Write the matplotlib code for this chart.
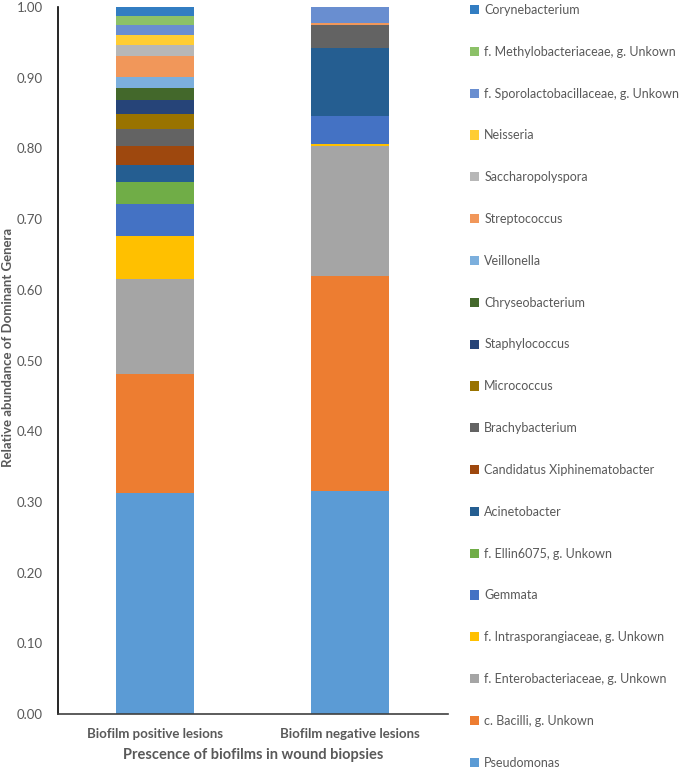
import matplotlib.pyplot as plt
import numpy as np

plt.rcParams["font.family"] = ["Lato", "DejaVu Sans"]

groups = ["Biofilm positive lesions", "Biofilm negative lesions"]

# stacking order, bottom to top
genera = [
    "Pseudomonas",
    "c. Bacilli, g. Unkown",
    "f. Enterobacteriaceae, g. Unkown",
    "f. Intrasporangiaceae, g. Unkown",
    "Gemmata",
    "f. Ellin6075, g. Unkown",
    "Acinetobacter",
    "Candidatus Xiphinematobacter",
    "Brachybacterium",
    "Micrococcus",
    "Staphylococcus",
    "Chryseobacterium",
    "Veillonella",
    "Streptococcus",
    "Saccharopolyspora",
    "Neisseria",
    "f. Sporolactobacillaceae, g. Unkown",
    "f. Methylobacteriaceae, g. Unkown",
    "Corynebacterium",
]

positive = [0.312, 0.169, 0.134, 0.061, 0.045, 0.031, 0.025, 0.026, 0.025, 0.021,
            0.020, 0.016, 0.016, 0.030, 0.015, 0.014, 0.014, 0.013, 0.013]
negative = [0.315, 0.305, 0.184, 0.002, 0.040, 0.000, 0.096, 0.000, 0.033, 0.000,
            0.000, 0.000, 0.000, 0.002, 0.000, 0.000, 0.023, 0.000, 0.000]

colors = ["#5B9BD5", "#ED7D31", "#A5A5A5", "#FFC000", "#4472C4", "#70AD47",
          "#255E91", "#9E480E", "#636363", "#997300", "#264478", "#43682B",
          "#7CAFDD", "#F1975A", "#B7B7B7", "#FFCD33", "#698ED0", "#8CC168",
          "#327DC2"]

fig = plt.figure(figsize=(6.85, 7.69), dpi=100)
ax = fig.add_axes([0.0847, 0.0715, 0.569, 0.9194])

x = np.arange(len(groups))
bottom = np.zeros(len(groups))
handles = []
for name, p, n, c in zip(genera, positive, negative, colors):
    vals = np.array([p, n])
    h = ax.bar(x, vals, 0.4, bottom=bottom, color=c, linewidth=0, label=name)
    handles.append(h)
    bottom += vals

ax.set_xlim(-0.5, 1.5)
ax.set_ylim(0, 1.0)
ax.set_yticks(np.arange(0, 1.01, 0.1))
ax.set_yticklabels([f"{v:.2f}" for v in np.arange(0, 1.01, 0.1)])
ax.set_xticks(x)
ax.set_xticklabels(groups, fontweight="bold")
ax.tick_params(axis="both", length=0, colors="#595959", labelsize=9.5)
ax.tick_params(axis="x", pad=10)
ax.tick_params(axis="y", pad=11)
for s in ["top", "right"]:
    ax.spines[s].set_visible(False)
ax.spines["left"].set_color("black")
ax.spines["bottom"].set_color("#404040")
ax.spines["left"].set_linewidth(1.2)
ax.spines["bottom"].set_linewidth(1.2)

ax.set_xlabel("Prescence of biofilms in wound biopsies", fontsize=10.5,
              fontweight="bold", color="#595959", labelpad=6)
ax.set_ylabel("Relative abundance of Dominant Genera", fontsize=9.5,
              fontweight="bold", color="#595959")
ax.yaxis.set_label_coords(-0.113, 0.519)

fig.legend(handles[::-1], genera[::-1], loc="upper left",
           bbox_to_anchor=(465 / 685, 1 + 1 / 769), frameon=False,
           fontsize=9, labelcolor="#595959", handlelength=0.75,
           handleheight=0.75, handletextpad=0.4, labelspacing=2.385,
           borderaxespad=0)

fig.savefig("out.png", dpi=100)
